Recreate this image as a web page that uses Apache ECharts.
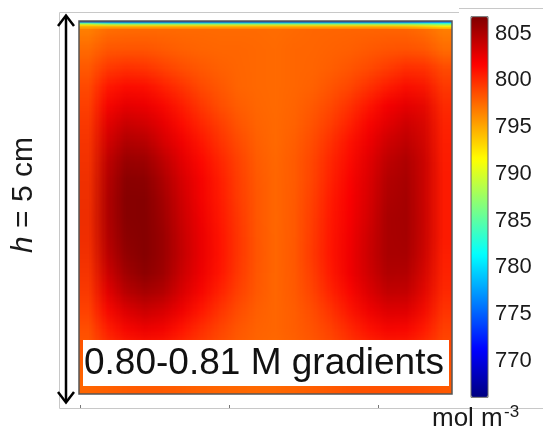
<!DOCTYPE html>
<html>
<head>
<meta charset="utf-8">
<script src="https://cdn.jsdelivr.net/npm/echarts@6/dist/echarts.min.js"></script>
<style>
  html, body { margin: 0; padding: 0; background: #fff; width: 543px; height: 433px; overflow: hidden; }
  .layer { position: absolute; left: 0; top: 0; }
  #field, #wall { transform-origin: 0 0; }
</style>
</head>
<body>
<div id="field" class="layer"></div>
<div id="wall" class="layer"></div>
<div id="main" class="layer" style="width:543px;height:433px;"></div>
<script>
// Concentration field (mol m^-3), 20 x 20 cells, rows listed top to bottom.
const concentration = [
  [796.3, 797.1, 797.3, 797.4, 797.4, 797.4, 797.4, 797.4, 797.4, 797.4, 797.3, 797.4, 797.5, 797.6, 797.6, 797.7, 797.7, 797.6, 797.4, 796.6],
  [797.0, 797.8, 797.9, 797.9, 797.8, 797.7, 797.6, 797.5, 797.5, 797.5, 797.4, 797.5, 797.6, 797.7, 797.8, 797.9, 798.0, 798.0, 797.8, 797.0],
  [797.7, 798.9, 799.2, 799.1, 798.6, 798.2, 797.9, 797.7, 797.6, 797.5, 797.4, 797.5, 797.6, 797.8, 798.0, 798.3, 798.8, 799.3, 799.4, 798.3],
  [798.1, 800.4, 800.9, 800.9, 800.2, 799.3, 798.6, 798.1, 797.7, 797.5, 797.4, 797.5, 797.7, 798.0, 798.5, 799.1, 799.9, 800.7, 800.8, 799.2],
  [798.4, 801.4, 802.3, 802.2, 801.4, 800.4, 799.3, 798.5, 797.9, 797.5, 797.4, 797.5, 797.9, 798.4, 799.2, 800.3, 801.5, 802.4, 802.6, 799.8],
  [798.7, 802.4, 803.6, 803.4, 802.5, 801.3, 800.1, 799.1, 798.3, 797.7, 797.4, 797.6, 798.1, 798.9, 799.9, 801.2, 802.5, 803.4, 803.5, 800.2],
  [798.9, 803.0, 804.6, 804.4, 803.3, 802.0, 800.8, 799.7, 798.7, 797.9, 797.4, 797.7, 798.4, 799.4, 800.6, 801.9, 803.2, 804.2, 803.9, 800.4],
  [799.0, 803.7, 805.6, 805.6, 804.4, 802.8, 801.5, 800.2, 799.1, 798.1, 797.4, 797.8, 798.6, 799.8, 801.1, 802.4, 804.0, 804.9, 804.2, 800.5],
  [799.1, 804.2, 806.2, 806.4, 805.1, 803.4, 801.9, 800.7, 799.4, 798.2, 797.5, 797.8, 798.7, 800.1, 801.4, 802.7, 804.5, 805.3, 804.3, 800.6],
  [799.2, 804.4, 806.5, 806.7, 805.6, 803.8, 802.2, 800.9, 799.5, 798.3, 797.5, 797.8, 798.8, 800.3, 801.6, 802.8, 804.8, 805.5, 804.3, 800.6],
  [799.3, 804.5, 806.5, 806.8, 805.8, 804.0, 802.3, 801.0, 799.6, 798.3, 797.4, 797.8, 798.9, 800.5, 801.7, 802.9, 804.9, 805.5, 804.3, 800.6],
  [799.3, 804.4, 806.4, 806.8, 806.0, 804.3, 802.6, 801.2, 799.7, 798.4, 797.5, 797.9, 799.0, 800.6, 801.9, 803.2, 805.1, 805.6, 804.4, 800.6],
  [799.2, 804.1, 806.1, 806.8, 806.1, 804.4, 802.7, 801.3, 799.8, 798.5, 797.5, 797.9, 799.1, 800.7, 802.0, 803.4, 805.2, 805.5, 804.3, 800.5],
  [799.0, 803.5, 805.6, 806.6, 806.0, 804.3, 802.6, 801.2, 799.7, 798.4, 797.5, 797.9, 799.0, 800.6, 802.0, 803.4, 805.0, 805.2, 803.9, 800.3],
  [798.8, 802.7, 804.8, 805.9, 805.4, 803.8, 802.2, 800.8, 799.4, 798.3, 797.5, 797.9, 798.8, 800.2, 801.6, 803.0, 804.5, 804.7, 803.3, 800.1],
  [798.5, 801.7, 803.4, 804.4, 804.1, 802.7, 801.3, 800.1, 798.9, 798.1, 797.5, 797.8, 798.5, 799.6, 800.9, 802.2, 803.5, 803.6, 802.5, 799.7],
  [798.1, 800.6, 802.0, 802.8, 802.6, 801.4, 800.3, 799.3, 798.4, 797.9, 797.5, 797.8, 798.3, 799.0, 800.1, 801.2, 802.1, 802.2, 801.4, 799.2],
  [797.8, 799.6, 800.7, 801.2, 801.1, 800.3, 799.5, 798.8, 798.1, 797.7, 797.4, 797.7, 798.1, 798.6, 799.4, 800.2, 800.8, 800.9, 800.3, 798.8],
  [797.7, 798.8, 799.5, 799.8, 799.8, 799.3, 798.8, 798.3, 797.9, 797.6, 797.4, 797.6, 797.9, 798.3, 798.8, 799.3, 799.7, 799.8, 799.4, 798.5],
  [797.6, 797.8, 798.0, 798.1, 798.1, 798.0, 797.8, 797.7, 797.6, 797.5, 797.5, 797.7, 797.9, 798.1, 798.3, 798.4, 798.5, 798.5, 798.4, 798.2]
];

// Thin depleted layer just under the top surface, 5 sub-rows, top to bottom.
const surfaceLayer = [
  [770.0, 768.5, 768.5, 768.5, 768.5, 768.5, 768.5, 768.5, 768.5, 768.5, 768.5, 768.5, 768.5, 768.5, 768.5, 768.5, 768.5, 769.0, 770.0, 772.0],
  [784.0, 780.0, 779.5, 779.5, 779.5, 779.5, 779.5, 779.5, 779.5, 779.5, 779.5, 779.5, 779.5, 779.5, 779.5, 779.5, 779.5, 779.5, 780.0, 781.0],
  [792.0, 789.5, 789.0, 789.0, 789.0, 789.0, 789.0, 789.0, 789.0, 789.0, 789.0, 789.0, 789.0, 789.0, 789.0, 789.0, 789.0, 789.0, 788.5, 787.0],
  [794.5, 794.0, 793.8, 793.8, 793.8, 793.8, 793.8, 793.8, 793.8, 793.8, 793.8, 793.8, 793.8, 793.8, 793.8, 793.8, 793.8, 793.5, 793.0, 791.5],
  [795.5, 796.2, 796.3, 796.3, 796.3, 796.3, 796.3, 796.3, 796.3, 796.3, 796.3, 796.3, 796.3, 796.3, 796.3, 796.3, 796.3, 796.0, 795.6, 794.5]
];

// Colour range and colour-bar tick labels (mol m^-3)
const colorMin = 766.1;
const colorMax = 806.8;
const colorTicks = [770, 775, 780, 785, 790, 795, 800, 805];
// Distance ticks along the bottom edge (cm) and box size
const widthTicks = [0, 2, 4];
const boxWidthCm = 5;

// Rainbow (jet) colour scale, evenly spaced stops
const jet = ['#000080', '#0000ff', '#0080ff', '#00ffff', '#80ff80', '#ffff00', '#ff8000', '#ff0000', '#800000'];

// Plot geometry (pixels)
const plot = { left: 79, top: 21, size: 373 };
const layerDepth = 8;
const FONT = '"Liberation Sans", Arial, sans-serif';

function cellsOf(rows) {
  const out = [];
  rows.forEach((row, j) => row.forEach((v, i) => out.push([i, j, v])));
  return out;
}

// Renders a grid of values one pixel per cell; the layer is then stretched
// over the plot area so the browser resamples it smoothly.
function smoothLayer(id, rows, w, h) {
  const nx = rows[0].length, ny = rows.length;
  const el = document.getElementById(id);
  el.style.width = nx + 'px';
  el.style.height = ny + 'px';
  el.style.left = plot.left + 'px';
  el.style.top = plot.top + 'px';
  el.style.transform = 'scale(' + (w / nx) + ',' + (h / ny) + ')';
  const chart = echarts.init(el, null, { renderer: 'canvas', devicePixelRatio: 1 });
  chart.setOption({
    animation: false,
    grid: { left: 0, right: 0, top: 0, bottom: 0, outerBoundsMode: 'none' },
    xAxis: { type: 'category', data: rows[0].map((_, i) => i), show: false },
    yAxis: { type: 'category', data: rows.map((_, j) => j), show: false, inverse: true },
    visualMap: { show: false, min: colorMin, max: colorMax, inRange: { color: jet } },
    series: [{ type: 'heatmap', data: cellsOf(rows), itemStyle: { borderWidth: 0 }, emphasis: { disabled: true } }]
  });
  return chart;
}

smoothLayer('field', concentration, plot.size, plot.size);
smoothLayer('wall', surfaceLayer, plot.size, layerDepth);

const main = echarts.init(document.getElementById('main'), null, { renderer: 'canvas', devicePixelRatio: 1 });
const cb = { left: 471, top: 16.7, width: 17, height: 380.6 };
const frame = '#c8c8c8';

main.setOption({
  animation: false,
  grid: [
    { left: cb.left, top: cb.top, width: cb.width, height: cb.height, outerBoundsMode: 'none' },
    { left: 80, top: 21, width: 373, height: 387, outerBoundsMode: 'none' }
  ],
  xAxis: [
    { gridIndex: 0, type: 'value', show: false, min: 0, max: 1 },
    {
      gridIndex: 1, type: 'value', min: 0, max: boxWidthCm,
      axisLine: { show: false }, splitLine: { show: false },
      axisLabel: { show: false },
      axisTick: { show: true, inside: true, length: 3, customValues: widthTicks, lineStyle: { color: '#777', width: 1 } }
    }
  ],
  yAxis: [
    {
      gridIndex: 0, type: 'value', position: 'left', min: colorMin, max: colorMax,
      axisLine: { show: false }, splitLine: { show: false }, axisLabel: { show: false },
      axisTick: { show: true, inside: true, length: 3, customValues: colorTicks, lineStyle: { color: '#222', width: 1 } }
    },
    {
      gridIndex: 0, type: 'value', position: 'right', min: colorMin, max: colorMax,
      axisLine: { show: false }, splitLine: { show: false },
      axisTick: { show: true, inside: true, length: 3, customValues: colorTicks, lineStyle: { color: '#222', width: 1 } },
      axisLabel: { show: true, customValues: colorTicks, margin: 7, fontSize: 22, fontFamily: FONT, color: '#1a1a1a' }
    },
    { gridIndex: 1, type: 'value', show: false, min: 0, max: 1 }
  ],
  visualMap: {
    type: 'continuous', show: true, calculable: false, min: colorMin, max: colorMax,
    left: cb.left, top: cb.top, itemWidth: cb.width, itemHeight: cb.height, padding: 0,
    inRange: { color: jet }, seriesIndex: []
  },
  graphic: [
    // outer frames
    { type: 'polyline', z: 20, shape: { points: [[59.5, 408.5], [59.5, 12.5], [459, 12.5]] }, style: { stroke: frame, lineWidth: 1, fill: null } },
    { type: 'line', z: 20, shape: { x1: 459, y1: 8.5, x2: 543, y2: 8.5 }, style: { stroke: frame, lineWidth: 1 } },
    { type: 'line', z: 20, shape: { x1: 59.5, y1: 408.5, x2: 543, y2: 408.5 }, style: { stroke: frame, lineWidth: 1 } },
    // plot and colour-bar borders
    { type: 'rect', z: 20, shape: { x: plot.left, y: plot.top, width: plot.size, height: plot.size }, style: { fill: null, stroke: '#555', lineWidth: 1.5 } },
    { type: 'rect', z: 20, shape: { x: cb.left, y: cb.top, width: cb.width, height: cb.height }, style: { fill: null, stroke: '#666', lineWidth: 1 } },
    // height arrow
    { type: 'line', z: 20, shape: { x1: 66, y1: 16, x2: 66, y2: 402 }, style: { stroke: '#000', lineWidth: 2.5 } },
    { type: 'polyline', z: 20, shape: { points: [[58, 26], [66, 15.5], [74, 26]] }, style: { stroke: '#000', lineWidth: 2.5, fill: null } },
    { type: 'polyline', z: 20, shape: { points: [[58, 392], [66, 402.5], [74, 392]] }, style: { stroke: '#000', lineWidth: 2.5, fill: null } },
    // height label
    {
      type: 'text', z: 20, x: 24, y: 195, rotation: Math.PI / 2,
      style: {
        text: '{it|h} = 5 cm', fontSize: 30, fontFamily: FONT, fill: '#1a1a1a', align: 'center', verticalAlign: 'middle',
        rich: { it: { fontStyle: 'italic', fontSize: 30, fontFamily: FONT, fill: '#1a1a1a' } }
      }
    },
    // annotation box
    { type: 'rect', z: 20, shape: { x: 83, y: 340, width: 366, height: 46 }, style: { fill: '#fff' } },
    { type: 'text', z: 21, x: 84, y: 363.5, style: { text: '0.80-0.81 M gradients', fontSize: 37, fontFamily: FONT, fill: '#111', align: 'left', verticalAlign: 'middle' } },
    // unit label
    { type: 'text', z: 20, x: 432, y: 432, style: { text: 'mol m', fontSize: 26, fontFamily: FONT, fill: '#1a1a1a', align: 'left', verticalAlign: 'bottom' } },
    { type: 'text', z: 20, x: 504, y: 421, style: { text: '-3', fontSize: 17, fontFamily: FONT, fill: '#1a1a1a', align: 'left', verticalAlign: 'bottom' } }
  ]
});
</script>
</body>
</html>
